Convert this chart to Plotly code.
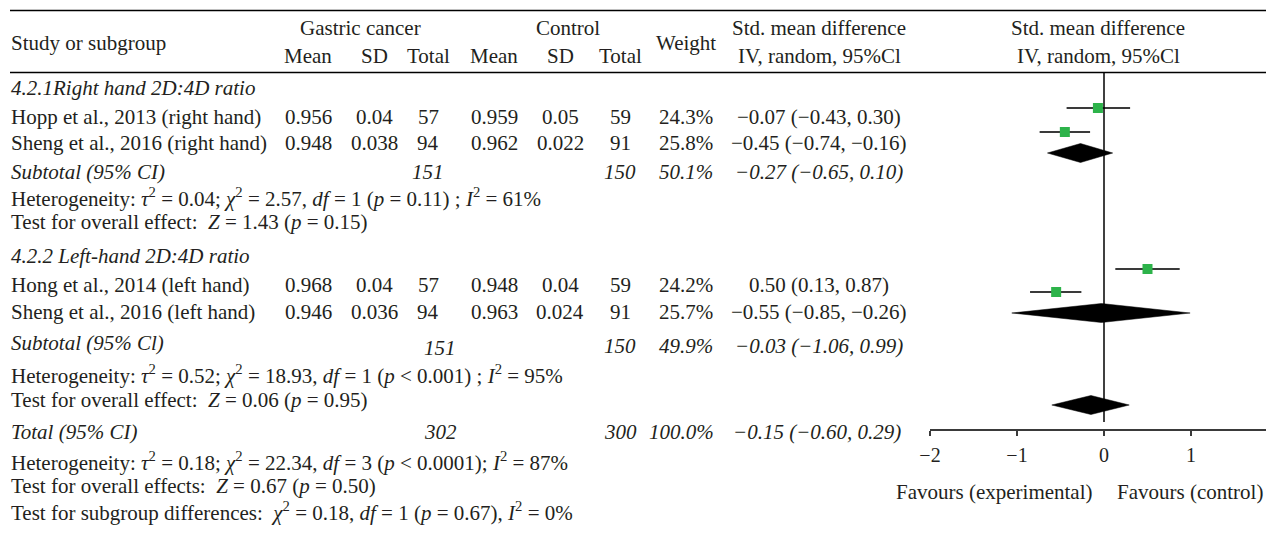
import plotly.graph_objects as go

# ---------------- data ----------------
study_names = ["Hopp et al., 2013 (right hand)", "Sheng et al., 2016 (right hand)",
               "Hong et al., 2014 (left hand)", "Sheng et al., 2016 (left hand)"]
gc_mean = [0.956, 0.948, 0.968, 0.946]
gc_sd = [0.04, 0.038, 0.04, 0.036]
gc_n = [57, 94, 57, 94]
ct_mean = [0.959, 0.962, 0.948, 0.963]
ct_sd = [0.05, 0.022, 0.04, 0.024]
ct_n = [59, 91, 59, 91]
weights = [24.3, 25.8, 24.2, 25.7]
smd = [-0.07, -0.45, 0.50, -0.55]
ci_lo = [-0.43, -0.74, 0.13, -0.85]
ci_hi = [0.30, -0.16, 0.87, -0.26]

subgroup_titles = ["4.2.1Right hand 2D:4D ratio", "4.2.2 Left-hand 2D:4D ratio"]
sub_labels = ["Subtotal (95% CI)", "Subtotal (95% Cl)"]
sub_gc_n = [151, 151]
sub_ct_n = [150, 150]
sub_weight = [50.1, 49.9]
sub_smd = [-0.27, -0.03]
sub_lo = [-0.65, -1.06]
sub_hi = [0.10, 0.99]
sub_tau2 = [0.04, 0.52]
sub_chi2 = [2.57, 18.93]
sub_df = [1, 1]
sub_p = ["= 0.11", "< 0.001"]
sub_i2 = [61, 95]
sub_z = [1.43, 0.06]
sub_pz = [0.15, 0.95]

total_label = "Total (95% CI)"
total_gc_n = 302
total_ct_n = 300
total_weight = 100.0
total_smd = -0.15
total_lo = -0.60
total_hi = 0.29
total_tau2 = 0.18
total_chi2 = 22.34
total_df = 3
total_p = "< 0.0001"
total_i2 = 87
total_z = 0.67
total_pz = 0.50
diff_chi2 = 0.18
diff_df = 1
diff_p = 0.67
diff_i2 = 0

axis_ticks = [-2, -1, 0, 1]
favours_left = "Favours (experimental)"
favours_right = "Favours (control)"

# ---------------- layout / style ----------------
OFF = 8                      # page body margin
W, H = 1274 - OFF, 533 - OFF
FONT = "Liberation Serif"
FS = 21
TXT = "#231f20"
GREEN = "#2db34a"
LINEC = "#3a3a3a"


def px(x):
    return (x - OFF) / W


def py(y):
    return 1 - (y - OFF) / H


# table column centres and row positions (screen pixels)
COL = dict(mean1=308, sd1=374, tot1=428, mean2=494, sd2=560, tot2=620, weight=686, smd=819)
LEFT = 10
study_rows = [117, 143, 285, 312]
title_rows = [88, 256]
sub_rows = [172, 343]
het_rows = [197, 374]
test_rows = [222, 400]
total_row = 432
total_het_row = 461
total_test_row = 486
diff_row = 511

# forest plot row positions (screen pixels) and geometry
forest_study_rows = [108, 132, 269, 292]
forest_sub_rows = [153, 313]
forest_total_row = 405
AX_Y = 429
TOP_Y = 72
PX_PER_UNIT = 87
ZERO_X = 1104
AX_LEFT = 930
DIAMOND_H = 9.5


def fmt(v, d=2):
    return f"{v:.{d}f}".replace("-", "\u2212")


def ci_text(e, lo, hi):
    return f"{fmt(e)} ({fmt(lo)}, {fmt(hi)})"


fig = go.Figure()
annotations = []


def txt(x, y, s, anchor="center", italic=False, size=FS):
    if italic:
        s = f"<i>{s}</i>"
    annotations.append(dict(x=px(x), y=py(y), xref="paper", yref="paper", text=s, showarrow=False,
                            xanchor=anchor, yanchor="middle", borderpad=0,
                            font=dict(family=FONT, size=size, color=TXT)))


# headers
txt(LEFT, 43, "Study or subgroup", "left")
txt(360, 28, "Gastric cancer")
txt(568, 28, "Control")
for key, lab in [("mean1", "Mean"), ("sd1", "SD"), ("tot1", "Total"),
                 ("mean2", "Mean"), ("sd2", "SD"), ("tot2", "Total")]:
    txt(COL[key], 56, lab)
txt(COL["weight"], 43, "Weight")
txt(COL["smd"], 28, "Std. mean difference")
txt(COL["smd"], 56, "IV, random, 95%Cl")
txt(1098, 28, "Std. mean difference")
txt(1098, 56, "IV, random, 95%Cl")

# studies
for i in range(4):
    y = study_rows[i]
    txt(LEFT, y, study_names[i], "left")
    txt(COL["mean1"], y, str(gc_mean[i]))
    txt(COL["sd1"], y, str(gc_sd[i]))
    txt(COL["tot1"], y, str(gc_n[i]))
    txt(COL["mean2"], y, str(ct_mean[i]))
    txt(COL["sd2"], y, str(ct_sd[i]))
    txt(COL["tot2"], y, str(ct_n[i]))
    txt(COL["weight"], y, f"{weights[i]:.1f}%")
    txt(COL["smd"], y, ci_text(smd[i], ci_lo[i], ci_hi[i]))

# subgroups
sub_n_x = [428, 440]
sub_n_dy = [0, 5]
for g in range(2):
    txt(LEFT, title_rows[g], subgroup_titles[g], "left", italic=True)
    y = sub_rows[g]
    txt(LEFT, y, sub_labels[g], "left", italic=True)
    txt(sub_n_x[g], y + sub_n_dy[g], str(sub_gc_n[g]), italic=True)
    txt(COL["tot2"], y + sub_n_dy[g] * 0.5, str(sub_ct_n[g]), italic=True)
    txt(COL["weight"], y + sub_n_dy[g] * 0.5, f"{sub_weight[g]:.1f}%", italic=True)
    txt(COL["smd"], y + sub_n_dy[g] * 0.5, ci_text(sub_smd[g], sub_lo[g], sub_hi[g]), italic=True)
    het = (f"Heterogeneity: <i>\u03c4</i><sup>2</sup> = {sub_tau2[g]:.2f}; "
           f"<i>\u03c7</i><sup>2</sup> = {sub_chi2[g]:.2f}, <i>df</i> = {sub_df[g]} "
           f"(<i>p</i> {sub_p[g]}) ; <i>I</i><sup>2</sup> = {sub_i2[g]}%")
    txt(LEFT, het_rows[g], het, "left")
    txt(LEFT, test_rows[g],
        f"Test for overall effect:  <i>Z</i> = {sub_z[g]:.2f} (<i>p</i> = {sub_pz[g]:.2f})", "left")

# total
txt(LEFT, total_row, total_label, "left", italic=True)
txt(440, total_row, str(total_gc_n), italic=True)
txt(COL["tot2"], total_row, str(total_ct_n), italic=True)
txt(681, total_row, f"{total_weight:.1f}%", italic=True)
txt(817, total_row, ci_text(total_smd, total_lo, total_hi), italic=True)
txt(LEFT, total_het_row,
    f"Heterogeneity: <i>\u03c4</i><sup>2</sup> = {total_tau2:.2f}; <i>\u03c7</i><sup>2</sup> = {total_chi2:.2f}, "
    f"<i>df</i> = {total_df} (<i>p</i> {total_p}); <i>I</i><sup>2</sup> = {total_i2}%", "left")
txt(LEFT, total_test_row,
    f"Test for overall effects:  <i>Z</i> = {total_z:.2f} (<i>p</i> = {total_pz:.2f})", "left")
txt(LEFT, diff_row,
    f"Test for subgroup differences:  <i>\u03c7</i><sup>2</sup> = {diff_chi2:.2f}, <i>df</i> = {diff_df} "
    f"(<i>p</i> = {diff_p:.2f}), <i>I</i><sup>2</sup> = {diff_i2}%", "left")

# favours labels
txt(994, 492, favours_left)
txt(1190, 492, favours_right)

# ---------------- forest plot ----------------
for i in range(4):
    fig.add_trace(go.Scatter(x=[ci_lo[i], ci_hi[i]], y=[forest_study_rows[i]] * 2, mode="lines",
                             line=dict(color=LINEC, width=1.8), xaxis="x2", yaxis="y2",
                             hoverinfo="skip", showlegend=False))
fig.add_trace(go.Scatter(x=smd, y=forest_study_rows, mode="markers",
                         marker=dict(symbol="square", size=10, color=GREEN, line=dict(width=0)),
                         xaxis="x2", yaxis="y2", showlegend=False))

diamonds = [(sub_smd[g], sub_lo[g], sub_hi[g], forest_sub_rows[g]) for g in range(2)]
diamonds.append((total_smd, total_lo, total_hi, forest_total_row))
for e, lo, hi, y in diamonds:
    fig.add_trace(go.Scatter(x=[lo, e, hi, e, lo], y=[y, y - DIAMOND_H, y, y + DIAMOND_H, y],
                             mode="lines", fill="toself", fillcolor="#000000",
                             line=dict(color="#000000", width=0.5), xaxis="x2", yaxis="y2",
                             hoverinfo="skip", showlegend=False))

shapes = [
    dict(type="line", xref="paper", yref="paper", x0=px(LEFT), x1=1, y0=py(10.5), y1=py(10.5),
         line=dict(color="#000000", width=1.5)),
    dict(type="line", xref="paper", yref="paper", x0=px(LEFT), x1=1, y0=py(72.5), y1=py(72.5),
         line=dict(color="#000000", width=1.5)),
    dict(type="line", xref="x2", yref="y2", x0=0, x1=0, y0=TOP_Y, y1=422,
         line=dict(color="#000000", width=1.5)),
]

x2_lo = (AX_LEFT - ZERO_X) / PX_PER_UNIT
x2_hi = (1274 - ZERO_X) / PX_PER_UNIT

fig.update_layout(
    width=W, height=H,
    margin=dict(l=0, r=0, t=0, b=0, pad=0, autoexpand=False),
    paper_bgcolor="white", plot_bgcolor="rgba(0,0,0,0)",
    showlegend=False, hovermode=False,
    annotations=annotations, shapes=shapes,
    xaxis2=dict(domain=[px(AX_LEFT), 1], range=[x2_lo, x2_hi], anchor="y2",
                showline=True, linecolor=LINEC, linewidth=2, showgrid=False, zeroline=False,
                ticks="outside", ticklen=5, tickwidth=1.5, tickcolor=LINEC,
                tickvals=axis_ticks, tickfont=dict(family=FONT, size=20, color=TXT),
                ticklabelstandoff=2, fixedrange=True, automargin=False),
    yaxis2=dict(domain=[py(AX_Y), py(TOP_Y)], range=[AX_Y, TOP_Y], anchor="x2",
                visible=False, fixedrange=True),
)

fig.write_html("out.html")
